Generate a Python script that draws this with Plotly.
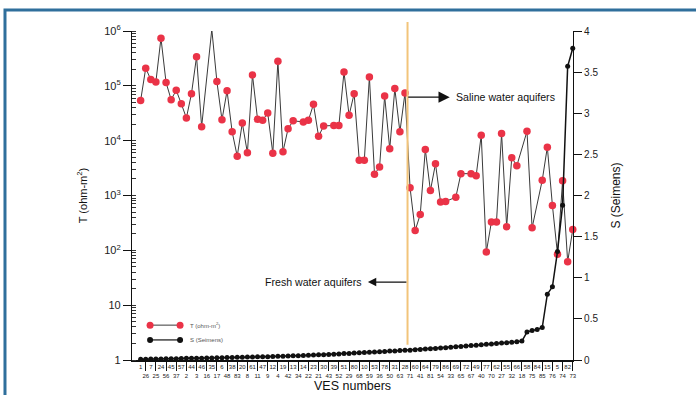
import plotly.graph_objects as go

# VES station numbers, ordered by increasing longitudinal conductance S
ves_numbers = [
    "1", "26", "7", "25", "24", "56", "45", "37", "57", "2",
    "44", "3", "46", "16", "35", "17", "6", "48", "38", "83",
    "20", "8", "61", "11", "47", "9", "12", "4", "19", "42",
    "13", "34", "14", "22", "23", "21", "30", "43", "39", "52",
    "51", "29", "80", "68", "10", "59", "53", "36", "78", "50",
    "31", "63", "28", "71", "60", "41", "64", "81", "79", "54",
    "86", "33", "69", "65", "72", "67", "49", "40", "77", "70",
    "62", "27", "55", "32", "66", "18", "58", "75", "84", "85",
    "15", "76", "5", "74", "82", "73",
]

# Transmissivity T (ohm-m^2); None where no value was obtained
transmissivity = [
    54000, 210000, 130000, 118000, 740000, 115000, 56000, 83000, 47000, 26000,
    72000, 340000, 18000, None, 1070000, 120000, 24000, 81000, 14500, 5200,
    21000, 6000, 158000, 24500, 23500, 32000, 5900, 280000, 6300, 16500,
    23000, None, 22000, 23500, 46000, 12000, 18600, None, 19000, 19000,
    178000, 29000, 72000, 4400, 4400, 145000, 2450, 3300, 65000, 7100,
    89000, 14500, 74000, 1380, 230, 450, 6900, 1230, 3800, 760,
    780, None, 930, 2500, None, 2500, 2300, 12600, 93, 330,
    330, 13500, 270, 4900, 3500, None, 14800, 257, None, 1900,
    7600, 660, 85, 1860, 62, 240,
]

# Longitudinal conductance S (Siemens)
conductance = [
    0.010, 0.010, 0.012, 0.012, 0.013, 0.015, 0.015, 0.016, 0.018, 0.020,
    0.020, 0.021, 0.022, 0.024, 0.025, 0.026, 0.028, 0.030, 0.030, 0.032,
    0.034, 0.035, 0.036, 0.038, 0.040, 0.041, 0.043, 0.045, 0.047, 0.050,
    0.051, 0.053, 0.055, 0.058, 0.060, 0.063, 0.065, 0.068, 0.070, 0.074,
    0.078, 0.080, 0.084, 0.088, 0.090, 0.094, 0.098, 0.100, 0.104, 0.108,
    0.110, 0.114, 0.118, 0.120, 0.124, 0.128, 0.133, 0.138, 0.140, 0.145,
    0.150, 0.155, 0.160, 0.165, 0.170, 0.176, 0.180, 0.186, 0.190, 0.196,
    0.200, 0.206, 0.210, 0.216, 0.222, 0.230, 0.340, 0.360, 0.370, 0.395,
    0.800, 0.890, 1.320, 1.880, 3.570, 3.790,
]

t_tickvals = [1, 10, 100, 1000, 1e4, 1e5, 1e6]
t_ticktext = ["1", "10", "10<sup>2</sup>", "10<sup>3</sup>", "10<sup>4</sup>",
              "10<sup>5</sup>", "10<sup>6</sup>"]
s_tickvals = [0, 0.5, 1, 1.5, 2, 2.5, 3, 3.5, 4]

FONT = "Liberation Sans, Arial, sans-serif"
RED = "#ea3347"
X_RANGE = [-1.7, 85.05]

# Station labels alternate between an upper (boxed) and a lower row
upper_row = ves_numbers[0::2]
lower_row = ves_numbers[1::2]

fig = go.Figure()

fig.add_trace(go.Scatter(
    x=ves_numbers, y=transmissivity, mode="lines+markers", connectgaps=True,
    line=dict(color="#3a3a3a", width=1),
    marker=dict(color=RED, size=7.5, line=dict(width=0)),
    cliponaxis=False, showlegend=False,
))
fig.add_trace(go.Scatter(
    x=ves_numbers, y=conductance, yaxis="y2", mode="lines+markers",
    line=dict(color="#111111", width=1.5),
    marker=dict(color="#111111", size=5),
    cliponaxis=False, showlegend=False,
))
# empty trace that ties the lower label row axis to the plot
fig.add_trace(go.Scatter(
    x=lower_row, y=[None] * len(lower_row), xaxis="x4", yaxis="y",
    mode="markers", showlegend=False, hoverinfo="skip",
))

# Hand-drawn key in the lower-left corner of the plot
key_x = [0.041, 0.109]
fig.add_trace(go.Scatter(
    x=key_x, y=[0.106, 0.106], xaxis="x3", yaxis="y3", mode="lines+markers",
    line=dict(color="#3a3a3a", width=1), marker=dict(color=RED, size=7),
    showlegend=False, hoverinfo="skip",
))
fig.add_trace(go.Scatter(
    x=key_x, y=[0.061, 0.061], xaxis="x3", yaxis="y3", mode="lines+markers",
    line=dict(color="#111111", width=1.2), marker=dict(color="#111111", size=6),
    showlegend=False, hoverinfo="skip",
))

annotations = [
    dict(x=0.128, y=0.106, xref="x3", yref="y3", text="T (ohm-m<sup>2</sup>)",
         showarrow=False, xanchor="left", yanchor="middle",
         font=dict(size=6, color="#555555", family=FONT)),
    dict(x=0.128, y=0.061, xref="x3", yref="y3", text="S (Seimens)",
         showarrow=False, xanchor="left", yanchor="middle",
         font=dict(size=6, color="#555555", family=FONT)),
    # Saline aquifer arrow and label
    dict(x=60.8, y=0.799, xref="x", yref="paper", text="", showarrow=True,
         ax=-43, ay=0, arrowhead=2, arrowsize=1.6, arrowwidth=1.4,
         arrowcolor="#111111"),
    dict(x=0.731, y=0.799, xref="paper", yref="paper",
         text="Saline water aquifers", showarrow=False, xanchor="left",
         yanchor="middle", font=dict(size=10.6, color="#111111", family=FONT)),
    # Fresh aquifer arrow and label
    dict(x=44.7, y=0.237, xref="x", yref="paper", text="", showarrow=True,
         ax=40, ay=0, arrowhead=2, arrowsize=1.4, arrowwidth=1.2,
         arrowcolor="#111111"),
    dict(x=0.526, y=0.237, xref="paper", yref="paper",
         text="Fresh water aquifers", showarrow=False, xanchor="right",
         yanchor="middle", font=dict(size=10.6, color="#111111", family=FONT)),
    dict(x=0.5, y=-0.080, xref="paper", yref="paper", text="VES numbers",
         showarrow=False, xanchor="center", yanchor="middle",
         font=dict(size=12.5, color="#111111", family=FONT)),
]

shapes = [
    # boundary between saline and fresh water stations
    dict(type="line", xref="x", yref="paper", x0=52.5, x1=52.5,
         y0=0.046, y1=1.027, line=dict(color="#f2c47a", width=2)),
    # page frame
    dict(type="rect", xref="paper", yref="paper", x0=-0.288, x1=1.29,
         y0=-0.13, y1=1.064, line=dict(color="#2f6f9c", width=3),
         fillcolor="rgba(0,0,0,0)", layer="below"),
]

fig.update_layout(
    width=696, height=395,
    margin=dict(l=132, r=123, t=31, b=35),
    paper_bgcolor="white", plot_bgcolor="white",
    font=dict(family=FONT, color="#111111"),
    xaxis=dict(
        type="category", categoryorder="array", categoryarray=ves_numbers,
        range=X_RANGE, showline=True, linecolor="#111111", linewidth=1.5,
        ticks="", tickmode="array", tickvals=upper_row, ticktext=upper_row,
        tickangle=0, ticklabelstandoff=0,
        tickfont=dict(size=6, color="#222222"), showgrid=False, zeroline=False,
    ),
    xaxis4=dict(
        type="category", categoryorder="array", categoryarray=ves_numbers,
        overlaying="x", anchor="y", side="bottom", range=X_RANGE,
        showline=False, ticks="outside", ticklen=10, tickcolor="#111111",
        tickwidth=1, tickmode="array", tickvals=lower_row, ticktext=lower_row,
        tickangle=0, tickfont=dict(size=6, color="#222222"),
        showgrid=False, zeroline=False,
    ),
    yaxis=dict(
        type="log", range=[0, 6], showline=True, linecolor="#111111",
        linewidth=1.2, ticks="outside", ticklen=8, tickcolor="#111111",
        tickmode="array", tickvals=t_tickvals, ticktext=t_ticktext,
        minor=dict(dtick="D1", ticks="inside", ticklen=4, tickcolor="#333333"),
        tickfont=dict(size=11, color="#222222"), showgrid=False,
        title=dict(text="T (ohm-m<sup>2</sup>)", font=dict(size=11), standoff=14),
    ),
    yaxis2=dict(
        overlaying="y", side="right", range=[0, 4], showline=True,
        linecolor="#111111", linewidth=1.2, ticks="outside", ticklen=8,
        tickcolor="#111111", tickmode="array", tickvals=s_tickvals,
        tickfont=dict(size=10, color="#222222"), showgrid=False, zeroline=False,
        title=dict(text="S (Seimens)", font=dict(size=12), standoff=14),
    ),
    xaxis3=dict(overlaying="x", anchor="y3", range=[0, 1], visible=False),
    yaxis3=dict(overlaying="y", anchor="x3", range=[0, 1], visible=False),
    annotations=annotations,
    shapes=shapes,
)

fig.write_html("out.html")
